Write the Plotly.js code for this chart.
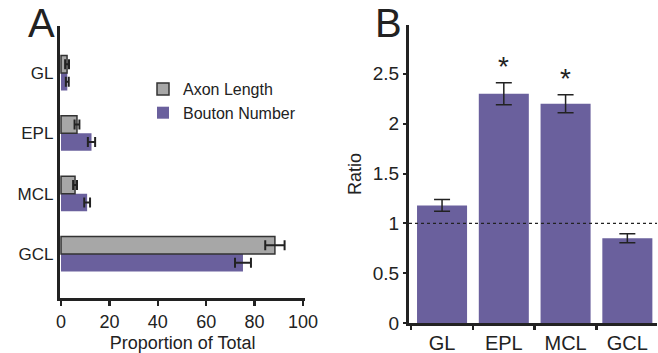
<!DOCTYPE html>
<html>
<head>
<meta charset="utf-8">
<script src="https://cdn.plot.ly/plotly-3.0.1.min.js"></script>
<style>html,body{margin:0;padding:0;background:#fff}#chart{width:658px;height:353px}</style>
</head>
<body>
<div id="chart"></div>
<script>
// Panel A data
var layers = ['GL', 'EPL', 'MCL', 'GCL'];
var axonLength = [2.5, 6.6, 5.8, 88.4];
var axonLengthErr = [0.8, 1.0, 0.8, 4.0];
var boutonNumber = [2.6, 12.6, 10.8, 75.2];
var boutonNumberErr = [0.6, 1.5, 1.2, 3.3];
var xTicksA = [0, 20, 40, 60, 80, 100];

// Panel B data
var ratio = [1.18, 2.30, 2.20, 0.85];
var ratioErr = [0.06, 0.11, 0.09, 0.045];
var significant = [false, true, true, false];
var yTicksB = [0, 0.5, 1, 1.5, 2, 2.5];

var PURPLE = '#6a609d';
var GRAY = '#a7a7a7';
var INK = '#222222';
var FONT = "'Liberation Sans', Arial, sans-serif";

var traces = [
  {
    type: 'bar', orientation: 'h', name: 'Bouton Number',
    y: layers, x: boutonNumber,
    xaxis: 'x', yaxis: 'y',
    marker: {color: PURPLE, line: {color: PURPLE, width: 0}},
    error_x: {type: 'data', array: boutonNumberErr, visible: true, color: INK, thickness: 2, width: 5}
  },
  {
    type: 'bar', orientation: 'h', name: 'Axon Length',
    y: layers, x: axonLength,
    xaxis: 'x', yaxis: 'y',
    marker: {color: GRAY, line: {color: '#333333', width: 1.5}},
    error_x: {type: 'data', array: axonLengthErr, visible: true, color: INK, thickness: 2, width: 5}
  },
  {
    type: 'bar', name: 'Ratio', showlegend: false,
    x: layers, y: ratio, width: 0.81,
    xaxis: 'x2', yaxis: 'y2',
    marker: {color: PURPLE},
    error_y: {type: 'data', array: ratioErr, visible: true, color: INK, thickness: 1.5, width: 8}
  }
];

var annotations = [
  {text: 'A', xref: 'paper', yref: 'paper', x: 41/658, y: 1 - 23/353, xanchor: 'center', yanchor: 'middle', showarrow: false, font: {family: FONT, size: 40, color: INK}},
  {text: 'B', xref: 'paper', yref: 'paper', x: 388/658, y: 1 - 23/353, xanchor: 'center', yanchor: 'middle', showarrow: false, font: {family: FONT, size: 40, color: INK}}
];
layers.forEach(function (c, i) {
  if (significant[i]) {
    annotations.push({text: '*', xref: 'x2', yref: 'y2', x: c, y: ratio[i] + ratioErr[i], xanchor: 'center', yanchor: 'middle', yshift: 16, showarrow: false, font: {family: FONT, size: 28, color: INK}});
  }
});

var layout = {
  width: 658, height: 353,
  margin: {l: 0, r: 0, t: 0, b: 0},
  paper_bgcolor: '#fff', plot_bgcolor: 'rgba(0,0,0,0)',
  font: {family: FONT, color: INK},
  barmode: 'group', bargap: 0.42, bargroupgap: 0,
  showlegend: true,
  legend: {x: 143/658, y: 1 - 72/353, xanchor: 'left', yanchor: 'top', traceorder: 'reversed', font: {family: FONT, size: 16, color: INK}, bgcolor: 'rgba(0,0,0,0)', itemwidth: 30},
  xaxis: {
    domain: [59.8/658, 305.4/658], range: [-0.5, 101], anchor: 'y',
    showgrid: false, zeroline: false, showline: true, linewidth: 3, linecolor: INK,
    ticks: 'outside', ticklen: 5, tickwidth: 2.5, tickcolor: INK,
    tickvals: xTicksA, tickfont: {size: 18, color: INK},
    title: {text: 'Proportion of Total', font: {size: 18, color: INK}}
  },
  yaxis: {
    domain: [1 - 298/353, 1 - 26/353], anchor: 'x',
    type: 'category', categoryorder: 'array', categoryarray: ['GCL', 'MCL', 'EPL', 'GL'],
    range: [-0.73, 3.78],
    showgrid: false, zeroline: false, showline: true, linewidth: 3, linecolor: INK,
    ticks: '', ticklabelstandoff: 0, tickfont: {size: 17, color: INK}
  },
  xaxis2: {
    domain: [409/658, 657/658], anchor: 'y2',
    type: 'category', categoryorder: 'array', categoryarray: layers,
    range: [-0.535, 3.48],
    showgrid: false, zeroline: false, showline: true, linewidth: 3, linecolor: INK,
    ticks: 'outside', tickson: 'boundaries', ticklen: 4, tickwidth: 2.5, tickcolor: INK,
    tickfont: {size: 20, color: INK}
  },
  yaxis2: {
    domain: [1 - 323/353, 1 - 25/353], anchor: 'x2',
    range: [0, 2.99],
    showgrid: false, zeroline: false, showline: true, linewidth: 3, linecolor: INK,
    ticks: 'outside', ticklen: 3, tickwidth: 2, tickcolor: INK,
    tickvals: yTicksB, tickfont: {size: 19, color: INK},
    title: {text: 'Ratio', font: {size: 18, color: INK}}
  },
  shapes: [
    {type: 'line', xref: 'x2 domain', yref: 'y2', x0: 0, x1: 1, y0: 1, y1: 1, line: {color: INK, width: 1.2, dash: 'dot'}}
  ],
  annotations: annotations
};

Plotly.newPlot('chart', traces, layout, {displayModeBar: false, staticPlot: true});
</script>
</body>
</html>
